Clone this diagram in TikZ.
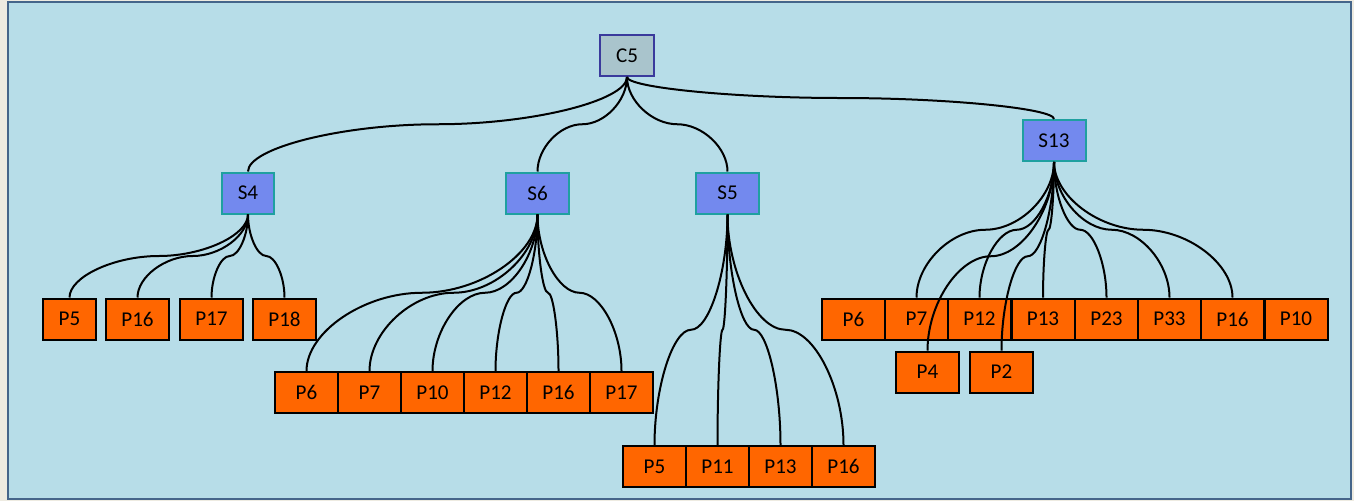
\documentclass[tikz,border=0pt]{standalone}
\usepackage{fontspec}
\setmainfont{Carlito}
\usetikzlibrary{calc}

\definecolor{pagebeige}{HTML}{EEEBE1}
\definecolor{panelblue}{HTML}{B7DDE8}
\definecolor{panelline}{HTML}{45658A}
\definecolor{rootfill}{HTML}{A9C4CC}
\definecolor{rootline}{HTML}{3A3A9C}
\definecolor{subfill}{HTML}{7389EE}
\definecolor{subline}{HTML}{1FA0A0}
\definecolor{leaffill}{HTML}{FF6600}

\tikzset{
  box/.style={draw, line width=0.04cm, inner sep=0pt, minimum height=0.82cm,
    minimum width=1.26cm, font=\fontsize{12}{14}\selectfont},
  rootbox/.style={box, fill=rootfill, draw=rootline, minimum width=1.08cm},
  subbox/.style={box, fill=subfill, draw=subline},
  leaf/.style={box, fill=leaffill, draw=black},
  link/.style={line width=0.04cm, black}
}

% curved elbow: parent bottom -> halfway level -> child top
\newcommand{\orglink}[2]{%
  \path (#1.south) coordinate (pa) (#2.north) coordinate (ch)
    ($(pa)!0.5!(ch)$) coordinate (mid)
    ($(pa)!0.25!(ch)$) coordinate (qa)
    ($(pa)!0.75!(ch)$) coordinate (qb);
  \draw[link] (pa) .. controls (pa |- qa) and (qa |- mid) .. (mid)
    .. controls (qb |- mid) and (ch |- qb) .. (ch);}

\begin{document}
\begin{tikzpicture}[x=0.02cm, y=-0.02cm]

    % Page and panel
    \useasboundingbox (0,0) rectangle (1354,501);
    \fill[pagebeige] (0,0) rectangle (1354,501);
    \draw[panelline, line width=0.03cm, fill=panelblue] (8,2) rectangle (1351,499);

    % Root
    \node[rootbox] (C5) at (627,55.5) {C5};

    % Second level
    \node[subbox, minimum width=1.04cm] (S4) at (248,193) {S4};
    \node[subbox] (S6) at (537.5,193) {S6};
    \node[subbox] (S5) at (727.5,193) {S5};
    \node[subbox] (S13) at (1054,140.5) {S13};

    % Leaves under S4
    \node[leaf, minimum width=1.06cm] (s4p5) at (69.5,319) {P5};
    \node[leaf] (s4p16) at (137.5,319) {P16};
    \node[leaf] (s4p17) at (211.5,319) {P17};
    \node[leaf] (s4p18) at (284.5,319) {P18};

    % Leaves under S6
    \node[leaf] (s6p6) at (306.5,392.5) {P6};
    \node[leaf] (s6p7) at (369.5,392.5) {P7};
    \node[leaf] (s6p10) at (432.5,392.5) {P10};
    \node[leaf] (s6p12) at (495.5,392.5) {P12};
    \node[leaf] (s6p16) at (558.5,392.5) {P16};
    \node[leaf] (s6p17) at (621.5,392.5) {P17};

    % Leaves under S5
    \node[leaf] (s5p5) at (654.5,466.5) {P5};
    \node[leaf] (s5p11) at (717.5,466.5) {P11};
    \node[leaf] (s5p13) at (780.5,466.5) {P13};
    \node[leaf] (s5p16) at (843.5,466.5) {P16};

    % Leaves under S13
    \node[leaf] (s13p6) at (853.5,319) {P6};
    \node[leaf] (s13p7) at (916.5,319) {P7};
    \node[leaf] (s13p12) at (979.5,319) {P12};
    \node[leaf] (s13p13) at (1043,319) {P13};
    \node[leaf] (s13p23) at (1106.5,319) {P23};
    \node[leaf] (s13p33) at (1169.5,319) {P33};
    \node[leaf] (s13p16) at (1232.5,319) {P16};
    \node[leaf] (s13p10) at (1296,319) {P10};
    \node[leaf] (s13p4) at (927.5,372) {P4};
    \node[leaf] (s13p2) at (1001.5,372) {P2};

    % Links
    \foreach \c in {S4,S6,S5,S13} {\orglink{C5}{\c}}
    \foreach \c in {s4p5,s4p16,s4p17,s4p18} {\orglink{S4}{\c}}
    \foreach \c in {s6p6,s6p7,s6p10,s6p12,s6p16,s6p17} {\orglink{S6}{\c}}
    \foreach \c in {s5p5,s5p11,s5p13,s5p16} {\orglink{S5}{\c}}
    \foreach \c in {s13p7,s13p4,s13p12,s13p2,s13p13,s13p23,s13p33,s13p16} {\orglink{S13}{\c}}

\end{tikzpicture}
\end{document}
